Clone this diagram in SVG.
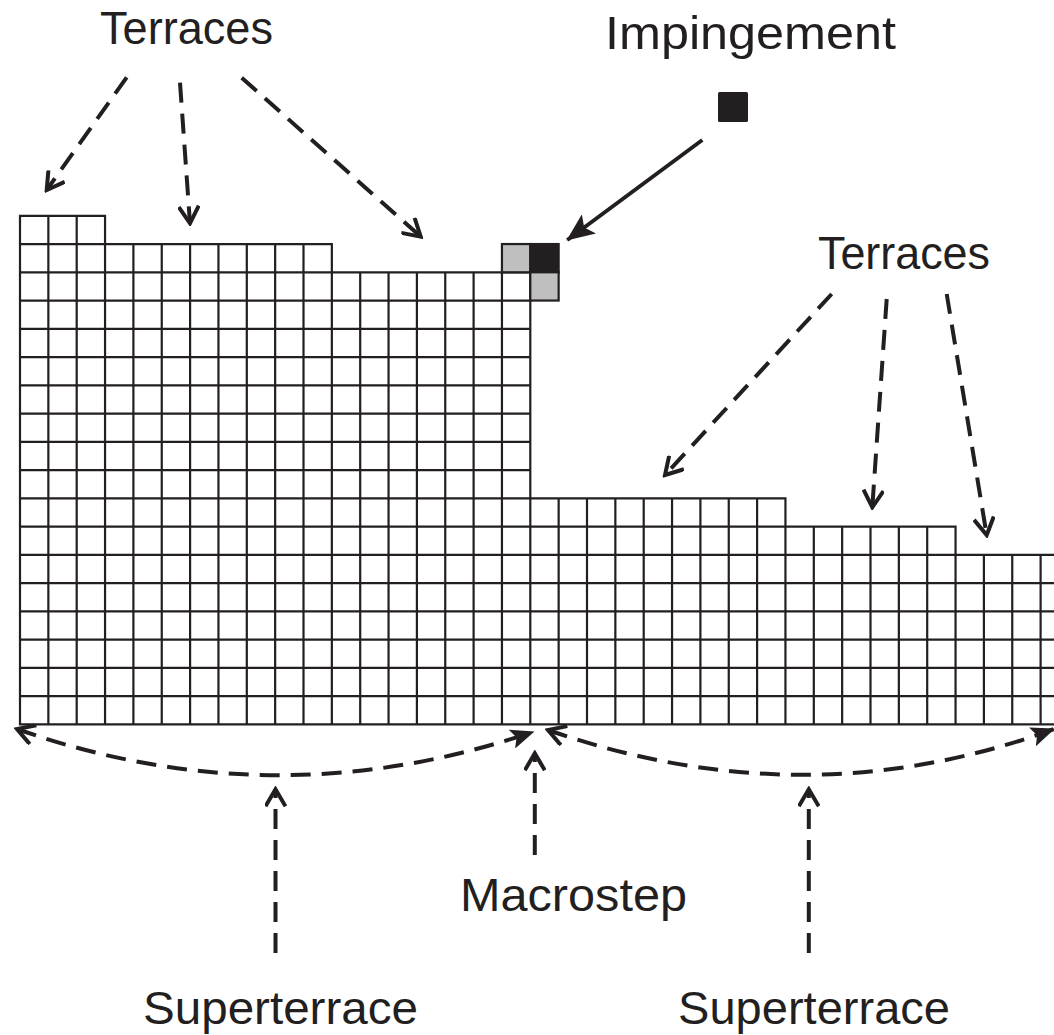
<svg xmlns="http://www.w3.org/2000/svg" width="1054" height="1035" viewBox="0 0 1054 1035">
<style>
.grid{fill:none;stroke:#231f20;stroke-width:2.2;stroke-linecap:square}
.lbl{font-family:"Liberation Sans",Arial,sans-serif;font-size:46px;fill:#231f20}
.dash{fill:none;stroke:#231f20;stroke-width:4;stroke-dasharray:20 11}
.solid{fill:none;stroke:#231f20;stroke-width:4}
.gray{fill:#bfbfbf;stroke:#231f20;stroke-width:2.2}
.black{fill:#231f20;stroke:#231f20;stroke-width:2.2}
</style>
<defs>
<marker id="open" viewBox="0 0 22 22" refX="19" refY="11" markerWidth="22" markerHeight="22" markerUnits="userSpaceOnUse" orient="auto-start-reverse">
<path d="M2,1 L19,11 L2,21" fill="none" stroke="#231f20" stroke-width="4"/>
</marker>
<marker id="fillbig" viewBox="0 0 28 24" refX="27" refY="12" markerWidth="28" markerHeight="24" markerUnits="userSpaceOnUse" orient="auto">
<path d="M0,0 L28,12 L0,24 L6,12 z" fill="#231f20"/>
</marker>
<marker id="fillsm" viewBox="0 0 24 20" refX="23" refY="10" markerWidth="24" markerHeight="20" markerUnits="userSpaceOnUse" orient="auto">
<path d="M0,0 L24,10 L0,20 L5,10 z" fill="#231f20"/>
</marker>
</defs>

<g id="crystal">
<path class="grid" d="
M20,724.3H1068.95 M20,696.05H1068.95 M20,667.8H1068.95 M20,639.55H1068.95 M20,611.3H1068.95 M20,583.05H1068.95 M20,554.8H1068.95
M20,526.55H955.55 M20,498.3H785.45
M20,470.05H530.3 M20,441.8H530.3 M20,413.55H530.3 M20,385.3H530.3 M20,357.05H530.3 M20,328.8H530.3 M20,300.55H530.3 M20,272.3H530.3
M20,244.05H331.85 M20,215.8H105.05
M20,215.8V724.3 M48.35,215.8V724.3 M76.7,215.8V724.3 M105.05,215.8V724.3
M133.4,244.05V724.3 M161.75,244.05V724.3 M190.1,244.05V724.3 M218.45,244.05V724.3 M246.8,244.05V724.3 M275.15,244.05V724.3 M303.5,244.05V724.3 M331.85,244.05V724.3
M360.2,272.3V724.3 M388.55,272.3V724.3 M416.9,272.3V724.3 M445.25,272.3V724.3 M473.6,272.3V724.3 M501.95,272.3V724.3 M530.3,272.3V724.3
M558.65,498.3V724.3 M587,498.3V724.3 M615.35,498.3V724.3 M643.7,498.3V724.3 M672.05,498.3V724.3 M700.4,498.3V724.3 M728.75,498.3V724.3 M757.1,498.3V724.3 M785.45,498.3V724.3
M813.8,526.55V724.3 M842.15,526.55V724.3 M870.5,526.55V724.3 M898.85,526.55V724.3 M927.2,526.55V724.3 M955.55,526.55V724.3
M983.9,554.8V724.3 M1012.25,554.8V724.3 M1040.6,554.8V724.3 M1068.95,554.8V724.3"/>
</g>

<g id="adatoms">
<rect class="gray" x="501.95" y="244.05" width="28.35" height="28.25"/>
<rect class="black" x="530.3" y="244.05" width="28.35" height="28.25"/>
<rect class="gray" x="530.3" y="272.3" width="28.35" height="28.25"/>
</g>

<g id="impinging-atom">
<rect x="718" y="92" width="30" height="30" rx="1.5" fill="#231f20"/>
</g>

<g id="connectors">
<path class="dash" d="M126.7,77.3 L46.7,190" marker-end="url(#open)"/>
<path class="dash" d="M180,82.7 L190,223.3" marker-end="url(#open)"/>
<path class="dash" d="M241.7,77.7 L420.7,236.7" marker-end="url(#open)"/>
<path class="dash" d="M831.7,294 L665,475" marker-end="url(#open)"/>
<path class="dash" d="M886.7,299 L872.3,507.3" marker-end="url(#open)"/>
<path class="dash" d="M946.7,294 L986.7,535" marker-end="url(#open)"/>
<path class="dash" d="M275.5,953 L275.5,789.3" marker-end="url(#open)"/>
<path class="dash" d="M534.8,855 L534.8,753.3" marker-end="url(#open)"/>
<path class="dash" d="M808.8,953 L808.8,789.3" marker-end="url(#open)"/>
<path class="dash" d="M17,729 Q275,820 533.6,731.7" marker-start="url(#open)" marker-end="url(#fillsm)"/>
<path class="dash" d="M548,730 Q806,820 1054,729" marker-start="url(#open)" marker-end="url(#fillsm)"/>
<path class="solid" d="M702.3,140 L567.3,240" marker-end="url(#fillbig)"/>
</g>

<g id="labels">
<text class="lbl" x="100" y="44" textLength="173" lengthAdjust="spacingAndGlyphs">Terraces</text>
<text class="lbl" x="605" y="49" textLength="291" lengthAdjust="spacingAndGlyphs">Impingement</text>
<text class="lbl" x="818" y="269" textLength="172" lengthAdjust="spacingAndGlyphs">Terraces</text>
<text class="lbl" x="460" y="911" textLength="227" lengthAdjust="spacingAndGlyphs">Macrostep</text>
<text class="lbl" x="143" y="1024" textLength="275" lengthAdjust="spacingAndGlyphs">Superterrace</text>
<text class="lbl" x="678" y="1024" textLength="272" lengthAdjust="spacingAndGlyphs">Superterrace</text>
</g>
</svg>
